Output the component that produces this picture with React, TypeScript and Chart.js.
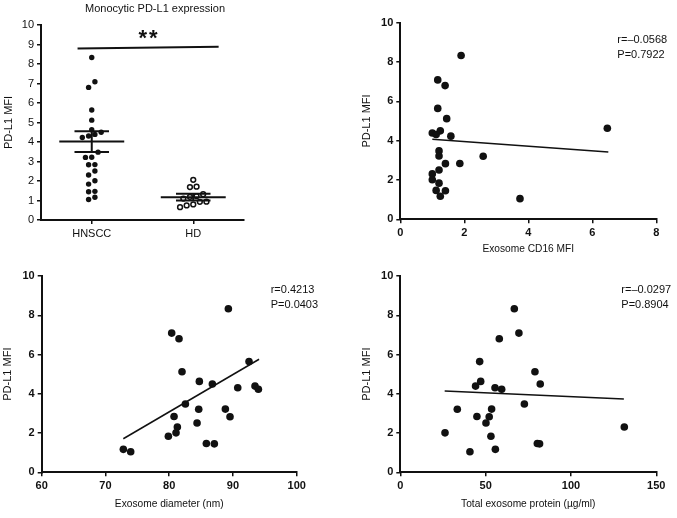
import React, { useEffect, useRef } from "react";
import { Chart, registerables } from "chart.js";
Chart.register(...registerables);

const FONT = "'Liberation Sans', Arial, Helvetica, sans-serif";
const INK = "#111";

// ---------- Panel A: Monocytic PD-L1 expression ----------
const titleA = "Monocytic PD-L1 expression";
const groupLabels = ["HNSCC", "HD"];
// PD-L1 MFI of the HNSCC patients (same patients in panels B-D, same order)
const pdl1Mfi = [8.33, 7.09, 6.8, 5.64, 5.12, 4.63, 4.5, 4.39, 4.31, 4.23, 3.48, 3.22, 3.21, 2.84, 2.83, 2.51, 2.31, 2.01, 1.84, 1.47, 1.45, 1.17, 1.05];
const hdMfi = [2.06, 1.69, 1.71, 1.32, 1.22, 1.19, 1.1, 0.94, 0.93, 0.8, 0.75, 0.66];
const groupMeans = [4.02, 1.17];
const groupSems = [0.53, 0.17];
const sigBarX = [0.86, 2.25];
const sigBarY = [8.8, 8.88];
const sigMark = ["*", "*"];
const yTicksA = { min: 0, max: 10, step: 1 };

// ---------- Panel B: Exosome CD16 MFI ----------
const cd16Mfi = [1.9, 1.17, 1.4, 1.17, 1.45, 6.47, 1.25, 1.0, 1.12, 1.58, 1.21, 1.21, 2.59, 1.86, 1.41, 1.21, 1.0, 1.0, 1.21, 1.12, 1.41, 1.25, 3.74];
const cd16Fit = [[1.0, 4.07], [6.5, 3.42]];
const cd16Stats = ["r=\u20130.0568", "P=0.7922"];

// ---------- Panel C: Exosome diameter ----------
const diameterNm = [89.28, 80.39, 81.54, 92.52, 82.01, 84.73, 86.77, 93.46, 90.75, 93.99, 82.54, 88.81, 84.63, 80.76, 89.54, 84.37, 81.28, 81.07, 79.87, 85.83, 87.08, 72.81, 73.96];
const diameterFit = [[72.8, 1.71], [94.1, 5.76]];
const diameterStats = ["r=0.4213", "P=0.0403"];

// ---------- Panel D: Total exosome protein ----------
const proteinUgMl = [66.8, 69.5, 58.0, 46.5, 78.9, 47.1, 82.0, 44.1, 55.5, 59.4, 72.7, 53.5, 33.4, 44.9, 52.1, 50.2, 131.25, 26.2, 53.1, 80.3, 81.6, 55.7, 40.8];
const proteinFit = [[26, 4.14], [131, 3.74]];
const proteinStats = ["r=\u20130.0297", "P=0.8904"];

const yLabel = "PD-L1 MFI";

// beeswarm: points of close value share a row, spread symmetrically
function swarmOffsets(values: number[], rowSpan: number, step: number): number[] {
  const idx = values.map((_, i) => i).sort((a, b) => values[a] - values[b]);
  const offsets = new Array(values.length).fill(0);
  let row: number[] = [];
  const flush = () => {
    row.forEach((k, j) => (offsets[k] = (j - (row.length - 1) / 2) * step));
    row = [];
  };
  for (const k of idx) {
    if (row.length && values[k] - values[row[0]] > rowSpan) flush();
    row.push(k);
  }
  flush();
  return offsets;
}

function seg(pts: { x: number; y: number }[], width = 2) {
  return {
    type: "scatter",
    data: pts,
    showLine: true,
    pointRadius: 0,
    borderColor: INK,
    backgroundColor: INK,
    borderWidth: width,
    order: 0,
  };
}

function makeScale(o: any) {
  const s: any = {
    type: "linear",
    min: o.min,
    max: o.max,
    border: { display: true, color: INK, width: 2 },
    grid: { display: true, drawOnChartArea: false, drawTicks: true, tickLength: 4, color: INK, lineWidth: 1.5 },
    ticks: {
      color: INK,
      font: { family: FONT, size: o.tickSize ?? 11, weight: o.bold ? "bold" : "normal" },
      padding: 3,
      maxRotation: 0,
      autoSkip: false,
    },
    title: o.title
      ? { display: true, text: o.title, color: INK, font: { family: FONT, size: o.titleSize ?? 11 }, padding: o.titlePad }
      : { display: false },
  };
  if (o.step) s.ticks.stepSize = o.step;
  if (o.ticksAt) s.afterBuildTicks = (sc: any) => { sc.ticks = o.ticksAt.map((v: number) => ({ value: v })); };
  if (o.labels) s.ticks.callback = (v: number) => o.labels[Math.round(v) - 1] ?? "";
  if (o.axis === "y") s.afterFit = (sc: any) => { sc.width = o.size; };
  else s.afterFit = (sc: any) => { sc.height = o.size; };
  return s;
}

function statsPlugin(lines: string[], dx: number, dy: number[]) {
  return {
    id: "stats",
    afterDraw(chart: any) {
      const { ctx, chartArea } = chart;
      ctx.save();
      ctx.font = `11px ${FONT}`;
      ctx.fillStyle = INK;
      ctx.textAlign = "left";
      ctx.textBaseline = "middle";
      lines.forEach((t, i) => ctx.fillText(t, chartArea.right + dx, chartArea.top + dy[i]));
      ctx.restore();
    },
  };
}

const titlePluginA = {
  id: "titleA",
  afterDraw(chart: any) {
    const { ctx, chartArea } = chart;
    ctx.save();
    ctx.font = `11px ${FONT}`;
    ctx.fillStyle = INK;
    ctx.textAlign = "center";
    ctx.textBaseline = "middle";
    ctx.fillText(titleA, (chartArea.left + chartArea.right) / 2 + 12.5, chartArea.top - 16.5);
    ctx.restore();
  },
};

const sigPlugin = {
  id: "sig",
  afterDraw(chart: any) {
    const { ctx, scales } = chart;
    const cx = scales.x.getPixelForValue((sigBarX[0] + sigBarX[1]) / 2);
    const cy = scales.y.getPixelForValue((sigBarY[0] + sigBarY[1]) / 2);
    ctx.save();
    ctx.font = `bold 22px ${FONT}`;
    ctx.fillStyle = INK;
    ctx.textAlign = "center";
    ctx.textBaseline = "alphabetic";
    ctx.fillText(sigMark[0], cx - 5.2, cy - 2.5);
    ctx.fillText(sigMark[1], cx + 5.2, cy - 2.5);
    ctx.restore();
  },
};

function buildA() {
  const hOff = swarmOffsets(pdl1Mfi, 0.3, 0.062);
  const dOff = swarmOffsets(hdMfi, 0.3, 0.065);
  const datasets: any[] = [];
  datasets.push(seg([{ x: sigBarX[0], y: sigBarY[0] }, { x: sigBarX[1], y: sigBarY[1] }], 2));
  groupMeans.forEach((m, g) => {
    const cx = g + 1;
    const s = groupSems[g];
    datasets.push(seg([{ x: cx - 0.32, y: m }, { x: cx + 0.32, y: m }]));
    datasets.push(seg([{ x: cx - 0.17, y: m + s }, { x: cx + 0.17, y: m + s }]));
    datasets.push(seg([{ x: cx - 0.17, y: m - s }, { x: cx + 0.17, y: m - s }]));
    datasets.push(seg([{ x: cx, y: m - s }, { x: cx, y: m + s }]));
  });
  datasets.push({
    type: "scatter",
    data: pdl1Mfi.map((v, i) => ({ x: 1 + hOff[i], y: v })),
    pointRadius: 2.7,
    backgroundColor: INK,
    borderColor: INK,
    borderWidth: 0,
    order: 1,
  });
  datasets.push({
    type: "scatter",
    data: hdMfi.map((v, i) => ({ x: 2 + dOff[i], y: v })),
    pointRadius: 2.4,
    backgroundColor: "#fff",
    borderColor: INK,
    borderWidth: 1.5,
    order: 1,
  });
  return {
    type: "scatter",
    data: { datasets },
    options: {
      responsive: false,
      animation: false,
      events: [],
      layout: { padding: { left: 0, right: 66, top: 25, bottom: 0 }, autoPadding: false },
      plugins: {
        legend: { display: false },
        tooltip: { enabled: false },
        title: { display: false },
      },
      scales: {
        x: makeScale({ axis: "x", min: 0.5, max: 2.5, ticksAt: [1, 2], labels: groupLabels, size: 38, bold: false }),
        y: makeScale({
          axis: "y", min: yTicksA.min, max: yTicksA.max, step: yTicksA.step, size: 41, bold: false,
          title: yLabel, titlePad: { top: 2.4, bottom: 0 },
        }),
      },
    },
    plugins: [sigPlugin, titlePluginA],
  };
}

function buildScatter(o: any) {
  const datasets: any[] = [
    seg(o.fit.map(([x, y]: number[]) => ({ x, y })), 1.5),
    {
      type: "scatter",
      data: o.xs.map((x: number, i: number) => ({ x, y: pdl1Mfi[i] })),
      pointRadius: 3.8,
      backgroundColor: INK,
      borderColor: INK,
      borderWidth: 0,
      order: 1,
    },
  ];
  return {
    type: "scatter",
    data: { datasets },
    options: {
      responsive: false,
      animation: false,
      events: [],
      layout: { padding: { left: 0, right: o.padRight, top: o.padTop, bottom: 0 }, autoPadding: false },
      plugins: { legend: { display: false }, tooltip: { enabled: false }, title: { display: false } },
      scales: {
        x: makeScale({
          axis: "x", min: o.xMin, max: o.xMax, step: o.xStep, size: o.xSize, bold: true,
          title: o.xTitle, titleSize: 10.2, titlePad: { top: 0, bottom: o.xTitlePad },
        }),
        y: makeScale({
          axis: "y", min: 0, max: 10, step: 2, size: o.ySize, bold: true,
          title: yLabel, titlePad: { top: o.yTitlePad, bottom: 0 },
        }),
      },
    },
    plugins: [statsPlugin(o.stats, o.statDx, o.statDy)],
  };
}

function ChartCanvas({ left, top, width, height, build }: any) {
  const ref = useRef<HTMLCanvasElement>(null);
  useEffect(() => {
    const chart = new Chart(ref.current as HTMLCanvasElement, build());
    return () => chart.destroy();
  }, []);
  return (
    <canvas
      ref={ref}
      width={width}
      height={height}
      style={{ position: "absolute", left, top, width, height }}
    />
  );
}

export default function App() {
  return (
    <div style={{ position: "fixed", left: 0, top: 0, width: 677, height: 518, background: "#fff", overflow: "hidden" }}>
      <ChartCanvas left={0} top={0} width={310} height={258} build={buildA} />
      <ChartCanvas
        left={356} top={0} width={321} height={258}
        build={() => buildScatter({
          xs: cd16Mfi, fit: cd16Fit, stats: cd16Stats, xMin: 0, xMax: 8, xStep: 2,
          xTitle: "Exosome CD16 MFI", padRight: 20.7, padTop: 22.7, xSize: 38.7, ySize: 44.3,
          xTitlePad: 2.9, yTitlePad: 4.4, statDx: -39, statDy: [16.8, 31.8],
        })}
      />
      <ChartCanvas
        left={0} top={258} width={338} height={260}
        build={() => buildScatter({
          xs: diameterNm, fit: diameterFit, stats: diameterStats, xMin: 60, xMax: 100, xStep: 10,
          xTitle: "Exosome diameter (nm)", padRight: 41.3, padTop: 18, xSize: 45.7, ySize: 41.7,
          xTitlePad: 7.9, yTitlePad: 1.4, statDx: -26, statDy: [14, 29],
        })}
      />
      <ChartCanvas
        left={356} top={258} width={321} height={260}
        build={() => buildScatter({
          xs: proteinUgMl, fit: proteinFit, stats: proteinStats, xMin: 0, xMax: 150, xStep: 50,
          xTitle: "Total exosome protein (\u00b5g/ml)", padRight: 20.7, padTop: 18, xSize: 45.7, ySize: 44.3,
          xTitlePad: 7.9, yTitlePad: 4.4, statDx: -35, statDy: [14, 29],
        })}
      />
    </div>
  );
}
